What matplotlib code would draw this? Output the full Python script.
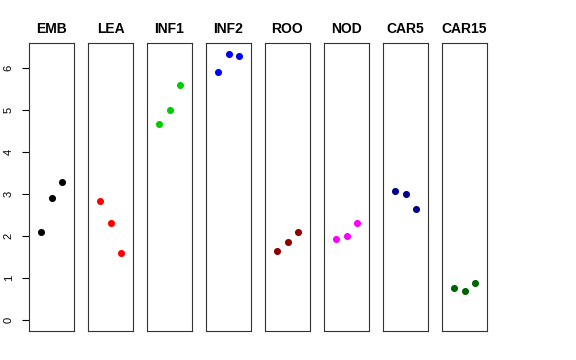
import matplotlib
matplotlib.use("Agg")
import matplotlib.pyplot as plt

plt.rcParams['font.family'] = ['Liberation Sans', 'DejaVu Sans']

groups = ['EMB', 'LEA', 'INF1', 'INF2', 'ROO', 'NOD', 'CAR5', 'CAR15']
colors = ['black', 'red', '#00cd00', 'blue', '#8b0000', 'magenta', '#00008b', '#006400']
values = [
    [2.09, 2.91, 3.29],
    [2.84, 2.30, 1.61],
    [4.67, 5.00, 5.59],
    [5.90, 6.33, 6.28],
    [1.64, 1.85, 2.09],
    [1.92, 2.01, 2.32],
    [3.06, 3.01, 2.65],
    [0.76, 0.69, 0.88],
]
reps = [1, 2, 3]

fig = plt.figure(figsize=(5.76, 3.6), dpi=100)
W, H = 576, 360
ymax = max(max(v) for v in values)
ext = 0.04 * ymax

for i, (g, c, v) in enumerate(zip(groups, colors, values)):
    left = 29 + i * 59
    ax = fig.add_axes([left / W, 1 - 331 / H, 45 / W, 288 / H])
    ax.scatter(reps, v, color=c, s=26, zorder=3, linewidths=0)
    ax.set_xlim(-0.16, 4.16)
    ax.set_ylim(-ext, ymax + ext)
    ax.set_xticks([])
    for s in ax.spines.values():
        s.set_linewidth(0.8)
        s.set_color('#333333')
    ax.set_title(g, fontsize=10, fontweight='bold', pad=7)
    if i == 0:
        ax.set_yticks(range(7))
        ax.tick_params(axis='y', labelsize=8, length=5, width=0.8, pad=6,
                       labelrotation=90)
        for lab in ax.get_yticklabels():
            lab.set_va('center')
    else:
        ax.set_yticks([])

fig.savefig('out.png', dpi=100)
